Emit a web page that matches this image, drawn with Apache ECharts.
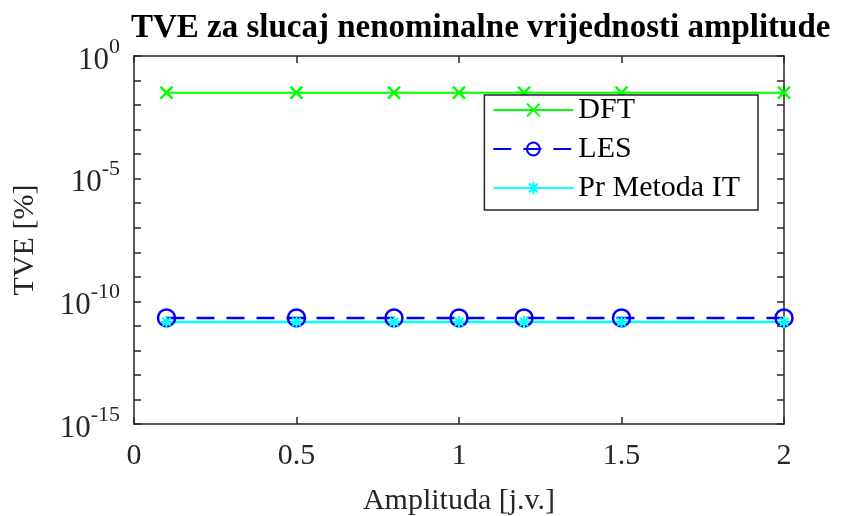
<!DOCTYPE html>
<html><head><meta charset="utf-8">
<script src="https://cdn.jsdelivr.net/npm/echarts@6/dist/echarts.min.js"></script>
<style>html,body{margin:0;padding:0;background:#fff}#c{width:842px;height:516px}</style>
</head><body><div id="c"></div>
<script>
const amplitude = [0.1, 0.5, 0.8, 1.0, 1.2, 1.5, 2.0];
const tveDFT = [0.032, 0.032, 0.032, 0.032, 0.032, 0.032, 0.032];
const tveLES = [2.1e-11, 2.1e-11, 2.1e-11, 2.1e-11, 2.1e-11, 2.1e-11, 2.1e-11];
const tveIT = [1.45e-11, 1.45e-11, 1.45e-11, 1.45e-11, 1.45e-11, 1.45e-11, 1.45e-11];
const seriesNames = ['DFT', 'LES', 'Pr Metoda IT'];
const xMin = 0, xMax = 2, xStep = 0.5;
const yMinExp = -15, yMaxExp = 0, yLabelStep = 5;

const FONT = "'Liberation Serif','Times New Roman',serif";
const AX = '#262626';
const pairs = arr => amplitude.map((x, i) => [x, arr[i]]);
const crossPath = 'path://M0,0 L10,10 M10,0 L0,10';
const starPath = 'path://M5,0 L5,10 M0,5 L10,5 M1.5,1.5 L8.5,8.5 M8.5,1.5 L1.5,8.5';

const yFmt = v => {
  const e = Math.round(Math.log10(v));
  return e % yLabelStep === 0 ? '{a|10}{b|' + e + '}' : '';
};
const mkY = () => ({
  type: 'log', logBase: 10, min: Math.pow(10, yMinExp), max: Math.pow(10, yMaxExp), interval: 1,
  axisLine: {show: true, onZero: false, lineStyle: {color: AX, width: 1.5}},
  axisTick: {show: true, inside: true, length: 7, lineStyle: {color: AX, width: 1.5}},
  splitLine: {show: false}, minorTick: {show: false}
});
const mkX = () => ({
  type: 'value', min: xMin, max: xMax, interval: xStep,
  axisLine: {show: true, onZero: false, lineStyle: {color: AX, width: 1.5}},
  axisTick: {show: true, inside: true, length: 7, lineStyle: {color: AX, width: 1.5}},
  splitLine: {show: false}
});

const chart = echarts.init(document.getElementById('c'), null, {renderer: 'canvas'});
chart.setOption({
  animation: false,
  backgroundColor: '#fff',
  title: {
    text: 'TVE za slucaj nenominalne vrijednosti amplitude',
    left: 126, top: 7,
    textStyle: {fontFamily: FONT, fontWeight: 'bold', fontSize: 33, color: '#000'}
  },
  grid: {left: 134, right: 58, top: 56, bottom: 92, outerBoundsMode: 'none', containLabel: false},
  legend: {
    data: seriesNames,
    orient: 'vertical', right: 84, top: 95,
    backgroundColor: '#fff', borderColor: AX, borderWidth: 1.5,
    padding: [0, 18, 7, 8],
    itemWidth: 80, itemHeight: 16, itemGap: 9,
    textStyle: {fontFamily: FONT, fontSize: 30, color: '#000', lineHeight: 26}
  },
  xAxis: [
    Object.assign(mkX(), {
      position: 'bottom',
      name: 'Amplituda [j.v.]', nameLocation: 'middle', nameGap: 62,
      nameTextStyle: {fontFamily: FONT, fontSize: 30, color: '#262626'},
      axisLabel: {fontFamily: FONT, fontSize: 30, color: '#262626', margin: 17, formatter: v => String(v)}
    }),
    Object.assign(mkX(), {position: 'top', axisLabel: {show: false}})
  ],
  yAxis: [
    Object.assign(mkY(), {
      position: 'left',
      name: 'TVE [%]', nameLocation: 'middle', nameGap: 94, nameRotate: 90,
      nameTextStyle: {fontFamily: FONT, fontSize: 30, color: '#262626'},
      axisLabel: {
        margin: 14, formatter: yFmt,
        rich: {
          a: {fontFamily: FONT, fontSize: 31, color: '#262626', verticalAlign: 'bottom', lineHeight: 40},
          b: {fontFamily: FONT, fontSize: 22, color: '#262626', verticalAlign: 'top', lineHeight: 22}
        }
      }
    }),
    Object.assign(mkY(), {position: 'right', axisLabel: {show: false}})
  ],
  series: [
    {
      name: seriesNames[0], type: 'line', data: pairs(tveDFT),
      symbol: crossPath, symbolSize: 12,
      lineStyle: {color: '#00ff00', width: 2},
      itemStyle: {color: '#00ff00', borderColor: '#00ff00', borderWidth: 2.5}
    },
    {
      name: seriesNames[1], type: 'line', data: pairs(tveLES),
      symbol: 'circle', symbolSize: 17,
      lineStyle: {color: '#0000ff', width: 2.5, type: [18, 12]},
      itemStyle: {color: 'rgba(0,0,0,0)', borderColor: '#0000ff', borderWidth: 2.5}
    },
    {
      name: seriesNames[2], type: 'line', data: pairs(tveIT),
      symbol: starPath, symbolSize: 12,
      lineStyle: {color: '#00ffff', width: 2.5},
      itemStyle: {color: '#00ffff', borderColor: '#00ffff', borderWidth: 2}
    }
  ]
});
</script></body></html>
